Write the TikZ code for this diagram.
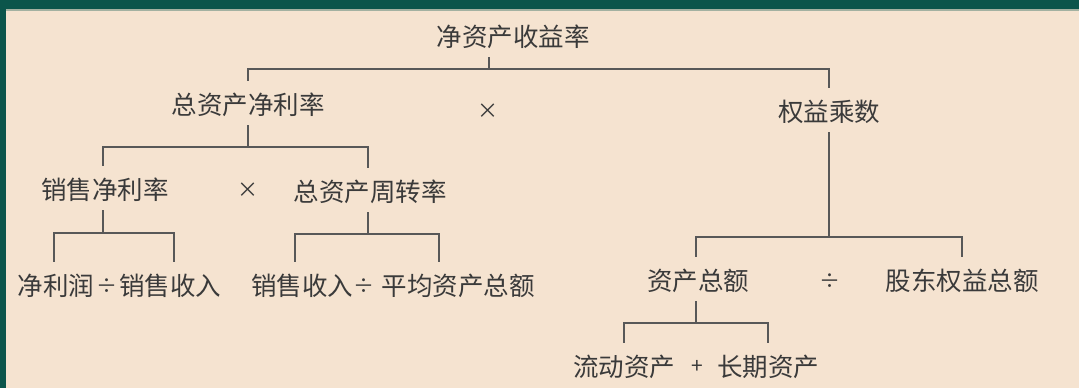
\documentclass[tikz,border=0pt]{standalone}
\usepackage{fontspec}
\usepackage{xcolor}
\newfontfamily\cjk{Noto Sans CJK SC}
\usetikzlibrary{calc}
\definecolor{framegreen}{HTML}{0B554B}
\definecolor{paper}{HTML}{F5E3D0}
\definecolor{ink}{HTML}{3A3A3A}
\tikzset{
  item/.style={inner sep=2pt, text=ink, font=\cjk\fontsize{12.75}{15}\selectfont},
  sign/.style={inner sep=1pt, text=ink, font=\cjk\fontsize{10.5}{12}\selectfont},
  stem/.style={draw=ink!85, line width=0.75pt, shorten <=2pt},
  fork/.style={draw=ink!85, line width=0.75pt, shorten <=4pt, shorten >=4pt},
}
\begin{document}
\begin{tikzpicture}[x=0.5pt,y=-0.5pt]
 \fill[paper] (0,0) rectangle (1079,388);
 \fill[framegreen] (0,0) rectangle (1079,9);
 \fill[framegreen] (0,0) rectangle (6,388);
 \fill[framegreen!35!paper] (6,9) rectangle (1079,10.5);
 \useasboundingbox (0,0) rectangle (1079,388);
 %
 \node[item] (roe) at (513,37) {净资产收益率};
 \node[item] (tanr) at (248,105) {总资产净利率};
 \node[sign] (x1) at (488,111) {×};
 \node[item] (em) at (829,112) {权益乘数};
 \node[item] (npm) at (105,190) {销售净利率};
 \node[sign] (x2) at (248,190) {×};
 \node[item] (tat) at (370,192) {总资产周转率};
 \node[item] (np) at (56,286) {净利润};
 \node[sign] (d1) at (107,286) {÷};
 \node[item] (sr1) at (170,286) {销售收入};
 \node[item] (sr2) at (302,286) {销售收入};
 \node[sign] (d2) at (364,286) {÷};
 \node[item] (avg) at (458,286) {平均资产总额};
 \node[item] (ta) at (698,281) {资产总额};
 \node[sign] (d3) at (830,281) {÷};
 \node[item] (se) at (962,281) {股东权益总额};
 \node[item] (ca) at (624,367) {流动资产};
 \node[sign] (p1) at (697,367) {+};
 \node[item] (lta) at (768,367) {长期资产};
 %
 \coordinate (j1) at (489,69);
 \coordinate (j2) at (248,147);
 \coordinate (j3) at (829,237);
 \coordinate (j4) at (103,233);
 \coordinate (j5) at (368,234);
 \coordinate (j6) at (696,323);
 %
 \draw[stem] (roe.south -| j1) -- (j1);
 \draw[fork] (tanr.north) |- (j1) -| (em.north);
 \draw[stem] (tanr.south -| j2) -- (j2);
 \draw[fork] ($(npm.north)+(-2,0)$) |- (j2) -| ($(tat.north)+(-2,0)$);
 \draw[stem] (em.south) -- (j3);
 \draw[fork] ($(ta.north)+(-2,0)$) |- (j3) -| (se.north);
 \draw[stem] (npm.south -| j4) -- (j4);
 \draw[fork] ($(np.north)+(-2,0)$) |- (j4) -| ($(sr1.north)+(4,0)$);
 \draw[stem] (tat.south -| j5) -- (j5);
 \draw[fork] ($(sr2.north)+(-7,0)$) |- (j5) -| ($(avg.north)+(-19,0)$);
 \draw[stem] (ta.south -| j6) -- (j6);
 \draw[fork] (ca.north) |- (j6) -| (lta.north);
\end{tikzpicture}
\end{document}
